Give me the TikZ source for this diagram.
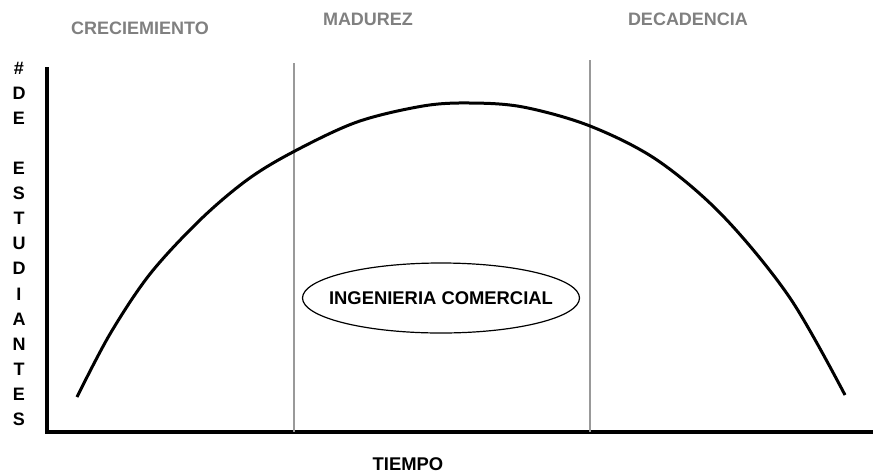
\documentclass[tikz,border=0pt]{standalone}
\usepackage{fontspec}
\setmainfont{Liberation Sans}
\usetikzlibrary{shapes.geometric}

\begin{document}
\begin{tikzpicture}[x=0.5pt,y=-0.5pt,
    etapa/.style={text=black!50,font=\fontsize{9}{11}\selectfont\bfseries},
    letra/.style={font=\fontsize{9}{10}\selectfont\bfseries,inner sep=0pt},
    limite/.style={draw=black!40,line width=0.7pt},
    eje/.style={line width=2pt},
    curva/.style={line width=1.5pt,line join=round}]
        \useasboundingbox (0,0) rectangle (873,472);
        % ejes
        \coordinate (origen) at (47,432);
        \coordinate (ytop) at (47,67);
        \coordinate (xend) at (873,432);
        \draw[eje] (ytop) -- (origen) -- (xend);
        % limites de las etapas
        \coordinate (l1top) at (294,63);
        \coordinate (l1bot) at (294,432);
        \coordinate (l2top) at (590,60);
        \coordinate (l2bot) at (590,432);
        \draw[limite] (l1top) -- (l1bot);
        \draw[limite] (l2top) -- (l2bot);
        \node[etapa] (crec) at (140,28) {CRECIEMIENTO};
        \node[etapa] (madur) at (368,19) {MADUREZ};
        \node[etapa] (decad) at (688,19) {DECADENCIA};
        % ciclo de vida
        \draw[curva] plot[smooth,tension=0.55] coordinates {
          (77,397) (110,334) (150,274) (200,220) (247,180) (293,152)
          (357,122) (423,106) (470,103) (523,107) (590,126) (657,160)
          (723,216) (790,298) (845,395)};
        \node[draw,ellipse,line width=0.6pt,inner xsep=-7pt,inner ysep=0pt,
          minimum height=35pt,font=\fontsize{9.2}{11}\selectfont\bfseries] (carrera) at (441,298)
          {INGENIERIA COMERCIAL};
        % rotulos de los ejes
        \foreach \l [count=\i] in {\#,D,E,{},E,S,T,U,D,I,A,N,T,E,S}
          \node[letra] (l\i) at (19,{68+25.1*(\i-1)}) {\l};
        \node[font=\fontsize{9.2}{11}\selectfont\bfseries] (tiempo) at (408,464) {TIEMPO};
      \end{tikzpicture}
\end{document}
